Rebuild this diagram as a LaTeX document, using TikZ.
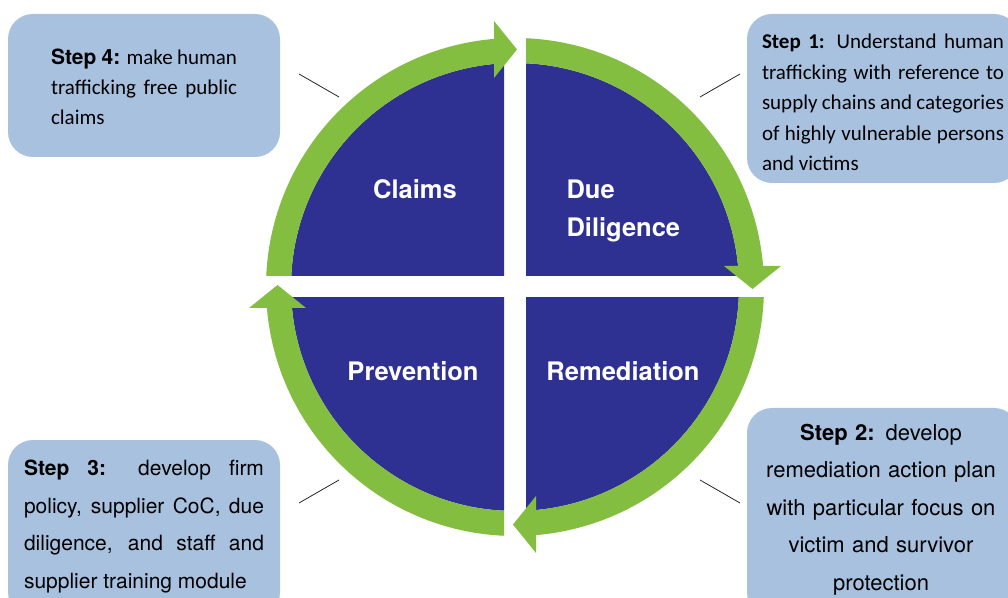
\documentclass[tikz,border=0pt]{standalone}
\usepackage{fontspec}
\setmainfont{Carlito}
\newfontfamily\heros{TeX Gyre Heros}
\usepackage{tikz}
\definecolor{quadblue}{RGB}{46,49,146}
\definecolor{ringgreen}{RGB}{132,190,65}
\definecolor{boxblue}{RGB}{168,193,223}

\begin{document}
\begin{tikzpicture}[x=1pt, y=1pt,
  stepbox/.style={fill=boxblue, rounded corners=25pt, inner sep=0pt, minimum width=272pt},
  steptext/.style={inner sep=0pt},
  quadlabel/.style={text=white, font=\heros\bfseries\fontsize{25.5}{38}\selectfont},
  leader/.style={line width=0.8pt, black!85}]
  \useasboundingbox (0,0) rectangle (1008,597);
  % the four quarters, each with its green arrow
  \foreach \k in {0,...,3}
    {\begin{scope}[shift={(515,310)}, rotate=-90*\k]
      \begin{scope}
        \clip (11,11) rectangle (300,300);
        \fill[quadblue] (0,0) circle[radius=224];
        \fill[ringgreen] (90:249) arc[start angle=90, end angle=4.8, radius=249]
          -- (4.8:224) arc[start angle=4.8, end angle=90, radius=224] -- cycle;
      \end{scope}
      \fill[ringgreen] (209,21) -- (266,21) -- (237.5,-2) -- cycle;
    \end{scope}}

  \node[quadlabel] (claims) at (415,408) {Claims};
  \node[quadlabel, anchor=west, align=left] (duedil) at (563,386) {Due\\Diligence};
  \node[quadlabel] (prevention) at (413,226) {Prevention};
  \node[quadlabel] (remediation) at (623,226) {Remediation};

  % step boxes
  \node[stepbox, minimum height=143pt] (step4) at (144,511.5) {};
  \node[stepbox, minimum height=169pt] (step1) at (883,498.5) {};
  \node[stepbox, minimum height=177pt] (step3) at (144,68.5) {};
  \node[stepbox, minimum height=209pt] (step2) at (883,84.5) {};

  \node[steptext, text width=186pt, align=justify, font=\fontsize{21}{30}\selectfont]
    (step4text) at ([yshift=-1pt]step4)
    {{\heros\bfseries Step 4:} make human\linebreak trafficking free public\linebreak claims};
  \node[steptext, text width=242pt, align=justify, font=\fontsize{21}{30.5}\selectfont]
    (step1text) at ([yshift=-4pt]step1)
    {\textbf{Step 1:} Understand human\linebreak trafficking with reference to\linebreak
     supply chains and categories\linebreak of highly vulnerable persons\linebreak and victims};
  \node[steptext, text width=240pt, align=justify, font=\heros\fontsize{21}{37.5}\selectfont]
    (step3text) at ([yshift=2pt]step3)
    {\textbf{Step 3:} develop firm\linebreak policy, supplier CoC, due\linebreak
     diligence, and staff and\linebreak supplier training module};
  \node[steptext, text width=250pt, align=center, font=\heros\fontsize{22}{37.5}\selectfont]
    (step2text) at ([xshift=-2pt, yshift=3pt]step2)
    {\textbf{Step 2:} develop\\ remediation action plan\\ with particular focus on\\
     victim and survivor\\ protection};

  % leader lines
  \coordinate (l4a) at (299,523); \coordinate (l4b) at (339,500);
  \coordinate (l1a) at (700,500); \coordinate (l1b) at (740,523);
  \coordinate (l3a) at (299,94); \coordinate (l3b) at (339,117);
  \coordinate (l2a) at (700,117); \coordinate (l2b) at (740,94);
  \draw[leader] (l4a) -- (l4b);
  \draw[leader] (l1a) -- (l1b);
  \draw[leader] (l3a) -- (l3b);
  \draw[leader] (l2a) -- (l2b);
\end{tikzpicture}
\end{document}
